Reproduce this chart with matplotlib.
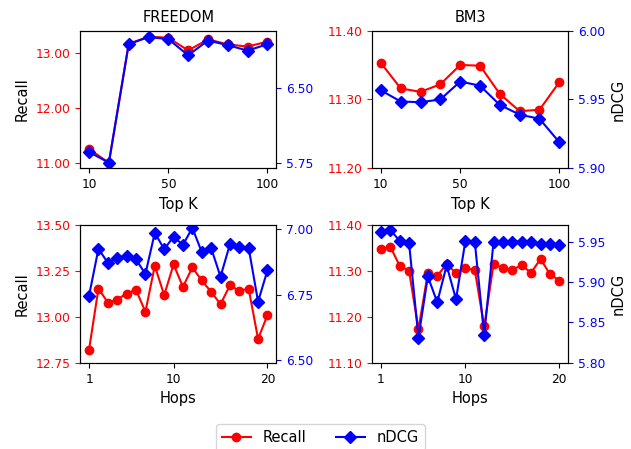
import numpy as np
import matplotlib
matplotlib.use('Agg')
import matplotlib.pyplot as plt
from matplotlib.ticker import FormatStrFormatter

plt.rcParams['font.size'] = 8.8

# Top K
topk = [10, 20, 30, 40, 50, 60, 70, 80, 90, 100]
freedom_k_recall = [11.26, 11.01, 13.16, 13.29, 13.27, 13.04, 13.24, 13.15, 13.11, 13.20]
freedom_k_ndcg = [5.862, 5.757, 6.93, 7.00, 6.98, 6.82, 6.966, 6.92, 6.866, 6.93]
bm3_k_recall = [11.353, 11.316, 11.311, 11.322, 11.350, 11.349, 11.308, 11.283, 11.285, 11.325]
bm3_k_ndcg = [5.9566, 5.9485, 5.948, 5.950, 5.963, 5.960, 5.946, 5.939, 5.936, 5.919]

# Hops
hops = list(range(1, 21))
freedom_h_recall = [12.822, 13.154, 13.078, 13.094, 13.127, 13.147, 13.027, 13.278, 13.118, 13.285,
                    13.163, 13.269, 13.198, 13.136, 13.069, 13.171, 13.142, 13.153, 12.880, 13.009]
freedom_h_ndcg = [6.746, 6.924, 6.871, 6.889, 6.897, 6.884, 6.828, 6.985, 6.923, 6.970,
                  6.939, 7.004, 6.912, 6.927, 6.818, 6.941, 6.932, 6.927, 6.723, 6.842]
bm3_h_recall = [11.348, 11.353, 11.311, 11.300, 11.173, 11.295, 11.289, 11.315, 11.295, 11.306,
                11.302, 11.179, 11.315, 11.306, 11.303, 11.312, 11.296, 11.326, 11.293, 11.279]
bm3_h_ndcg = [5.9615, 5.9644, 5.9508, 5.948, 5.8312, 5.9068, 5.8748, 5.9204, 5.8785, 5.9508,
              5.9496, 5.834, 5.95, 5.95, 5.95, 5.95, 5.9488, 5.9475, 5.9475, 5.9455]

fig = plt.figure(figsize=(6.31, 4.49), dpi=100)
L1, L2, W = 0.127, 0.5895, 0.311
pos = [[L1, 0.625, W, 0.307], [L2, 0.625, W, 0.307],
       [L1, 0.192, W, 0.307], [L2, 0.192, W, 0.307]]

panels = [
    (topk, freedom_k_recall, freedom_k_ndcg, 'Top K', 'FREEDOM', [10, 50, 100],
     (10.91, 13.40), [11, 12, 13], (5.70, 7.065), [5.75, 6.50]),
    (topk, bm3_k_recall, bm3_k_ndcg, 'Top K', 'BM3', [10, 50, 100],
     (11.20, 11.40), [11.2, 11.3, 11.4], (5.90, 6.00), [5.90, 5.95, 6.00]),
    (hops, freedom_h_recall, freedom_h_ndcg, 'Hops', None, [1, 10, 20],
     (12.75, 13.50), [12.75, 13.0, 13.25, 13.5], (6.49, 7.015), [6.5, 6.75, 7.0]),
    (hops, bm3_h_recall, bm3_h_ndcg, 'Hops', None, [1, 10, 20],
     (11.10, 11.40), [11.1, 11.2, 11.3, 11.4], (5.80, 5.9705), [5.80, 5.85, 5.90, 5.95]),
]

for i, (x, rec, nd, xl, title, xt, yl1, yt1, yl2, yt2) in enumerate(panels):
    ax = fig.add_axes(pos[i])
    ax2 = ax.twinx()
    l1, = ax.plot(x, rec, color='red', marker='o', markersize=6, label='Recall')
    l2, = ax2.plot(x, nd, color='blue', marker='D', markersize=6, label='nDCG')
    ax.set_xticks(xt)
    ax.set_xlabel(xl, fontsize='large')
    ax.set_ylim(*yl1)
    ax.set_yticks(yt1)
    ax2.set_ylim(*yl2)
    ax2.set_yticks(yt2)
    ax.yaxis.set_major_formatter(FormatStrFormatter('%.2f'))
    ax2.yaxis.set_major_formatter(FormatStrFormatter('%.2f'))
    ax.tick_params(axis='y', colors='red')
    ax2.tick_params(axis='y', colors='blue')
    if title:
        ax.set_title(title, fontsize='large')
    if i % 2 == 0:
        ax.set_ylabel('Recall', fontsize='large')
    else:
        ax2.set_ylabel('nDCG', fontsize='large')

fig.legend([l1, l2], ['Recall', 'nDCG'], loc='upper center', ncol=2,
           bbox_to_anchor=(0.5076, 0.072), fontsize='large')
fig.savefig('out.png', dpi=100)
